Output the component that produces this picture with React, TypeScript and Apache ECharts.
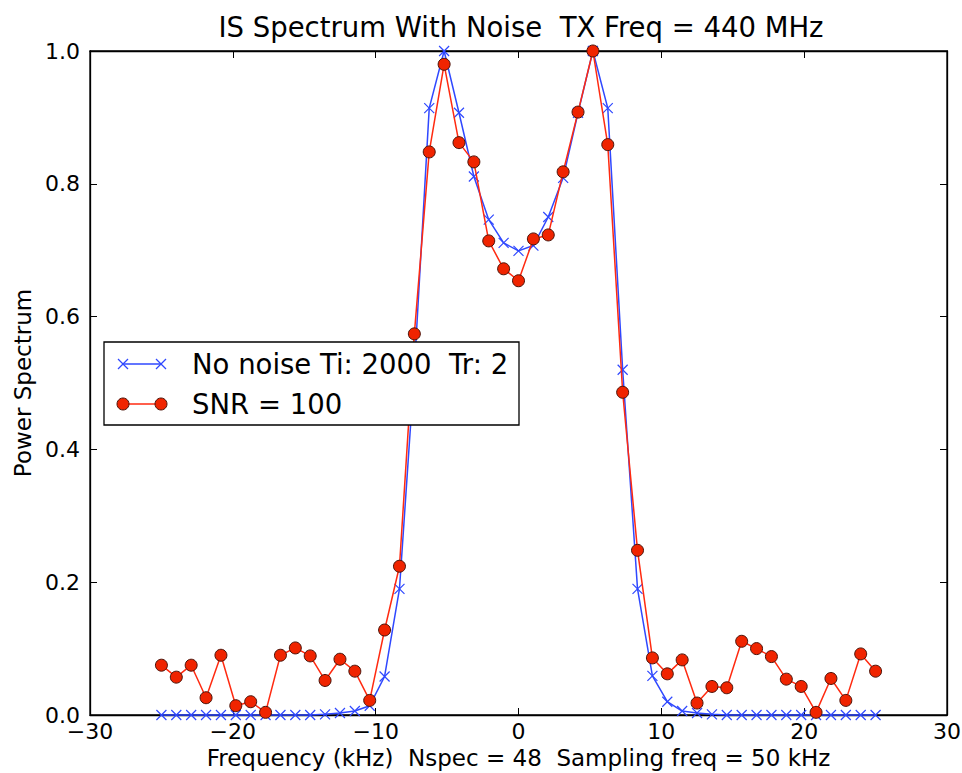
import React, { useEffect, useRef } from "react";
import * as echarts from "echarts";

const TITLE = "IS Spectrum With Noise  TX Freq = 440 MHz";
const X_LABEL = "Frequency (kHz)  Nspec = 48  Sampling freq = 50 kHz";
const Y_LABEL = "Power Spectrum";
const LEGEND_NAMES = ["No noise Ti: 2000  Tr: 2", "SNR = 100"];

const freqs = [
  -25, -23.958, -22.917, -21.875, -20.833, -19.792, -18.75, -17.708, -16.667, -15.625,
  -14.583, -13.542, -12.5, -11.458, -10.417, -9.375, -8.333, -7.292, -6.25, -5.208,
  -4.167, -3.125, -2.083, -1.042, 0, 1.042, 2.083, 3.125, 4.167, 5.208,
  6.25, 7.292, 8.333, 9.375, 10.417, 11.458, 12.5, 13.542, 14.583, 15.625,
  16.667, 17.708, 18.75, 19.792, 20.833, 21.875, 22.917, 23.958, 25,
];

const noNoise = [
  0, 0, 0, 0, 0, 0, 0, 0, 0, 0,
  0, 0.001, 0.003, 0.006, 0.014, 0.058, 0.19, 0.52, 0.914, 1.0,
  0.907, 0.811, 0.746, 0.711, 0.699, 0.707, 0.75, 0.809, 0.907, 1.0,
  0.914, 0.52, 0.19, 0.059, 0.02, 0.006, 0.003, 0.001, 0, 0,
  0, 0, 0, 0, 0, 0, 0, 0, 0,
];

const snr100 = [
  0.075, 0.057, 0.075, 0.026, 0.09, 0.014, 0.02, 0.004, 0.09, 0.101,
  0.089, 0.052, 0.084, 0.066, 0.022, 0.128, 0.224, 0.574, 0.848, 0.98,
  0.862, 0.833, 0.714, 0.672, 0.654, 0.717, 0.723, 0.818, 0.908, 1.0,
  0.859, 0.486, 0.248, 0.086, 0.062, 0.083, 0.018, 0.043, 0.041, 0.111,
  0.1, 0.088, 0.054, 0.043, 0.004, 0.055, 0.022, 0.092, 0.066,
];

const xTicks = { min: -30, max: 30, interval: 10 };
const yTicks = { min: 0, max: 1, interval: 0.2 };

const BLUE = "#2f48ff";
const RED = "#ff2a10";
const RED_FILL = "#f02400";
const RED_EDGE = "#4a1208";
const FONT = "DejaVu Sans";

const CROSS = "path://M0,0L10,10M10,0L0,10";

export default function App() {
  const ref = useRef<HTMLDivElement>(null);
  useEffect(() => {
    if (!ref.current) return;
    const chart = echarts.init(ref.current, undefined, { renderer: "svg" });
    const fmtX = (v: number) => String(v).replace("-", "\u2212");
    const axisCommon = {
      axisLine: { show: true, onZero: false, lineStyle: { color: "#000", width: 1.3 } },
      axisTick: { show: true, inside: true, length: 7, lineStyle: { color: "#000", width: 1 } },
      splitLine: { show: false },
    };
    const lx = 123, rx = 161, row1 = 364, row2 = 404;
    const Z = 100;
    const cross = (cx: number, cy: number) => [
      { type: "line", z: Z, shape: { x1: cx - 5, y1: cy - 5, x2: cx + 5, y2: cy + 5 }, style: { stroke: BLUE, lineWidth: 1.2 } },
      { type: "line", z: Z, shape: { x1: cx - 5, y1: cy + 5, x2: cx + 5, y2: cy - 5 }, style: { stroke: BLUE, lineWidth: 1.2 } },
    ];
    chart.setOption({
      animation: false,
      backgroundColor: "#fff",
      textStyle: { fontFamily: FONT },
      title: {
        text: TITLE,
        left: 516,
        top: 8,
        textAlign: "center",
        textStyle: { fontFamily: FONT, fontSize: 27.5, fontWeight: "normal", color: "#000" },
      },
      grid: {
        left: 90, right: 15, top: 51, bottom: 58,
        containLabel: false, outerBoundsMode: "none",
        show: true, borderColor: "#000", borderWidth: 1.3, backgroundColor: "transparent",
      },
      xAxis: [
        {
          type: "value", ...xTicks, position: "bottom", ...axisCommon,
          axisLabel: { color: "#000", fontSize: 22, lineHeight: 16, fontFamily: FONT, margin: 8, formatter: fmtX },
          name: X_LABEL, nameLocation: "middle", nameGap: 31,
          nameTextStyle: { color: "#000", fontSize: 23, fontFamily: FONT },
        },
        { type: "value", ...xTicks, position: "top", ...axisCommon, axisLabel: { show: false } },
      ],
      yAxis: [
        {
          type: "value", ...yTicks, position: "left", ...axisCommon,
          axisLabel: { color: "#000", fontSize: 22, lineHeight: 16, fontFamily: FONT, margin: 10, formatter: (v: number) => v.toFixed(1) },
          name: Y_LABEL, nameLocation: "middle", nameGap: 54, nameRotate: 90,
          nameTextStyle: { color: "#000", fontSize: 23, fontFamily: FONT },
        },
        { type: "value", ...yTicks, position: "right", ...axisCommon, axisLabel: { show: false } },
      ],
      series: [
        {
          name: LEGEND_NAMES[0], type: "line", clip: false,
          data: freqs.map((f, i) => [f, noNoise[i]]),
          symbol: CROSS, symbolSize: 10, showAllSymbol: true,
          lineStyle: { color: BLUE, width: 1.5 },
          itemStyle: { color: "transparent", borderColor: BLUE, borderWidth: 1.2 },
          z: 2,
        },
        {
          name: LEGEND_NAMES[1], type: "line", clip: false,
          data: freqs.map((f, i) => [f, snr100[i]]),
          symbol: "circle", symbolSize: 12, showAllSymbol: true,
          lineStyle: { color: RED, width: 1.5 },
          itemStyle: { color: RED_FILL, borderColor: RED_EDGE, borderWidth: 1 },
          z: 3,
        },
      ],
      graphic: [
        { type: "rect", z: Z, shape: { x: 104, y: 342, width: 415, height: 83 }, style: { fill: "#fff", stroke: "#000", lineWidth: 1.3 } },
        { type: "line", z: Z, shape: { x1: lx, y1: row1, x2: rx, y2: row1 }, style: { stroke: BLUE, lineWidth: 1.5 } },
        ...cross(lx, row1),
        ...cross(rx, row1),
        { type: "line", z: Z, shape: { x1: lx, y1: row2, x2: rx, y2: row2 }, style: { stroke: RED, lineWidth: 1.5 } },
        { type: "circle", z: Z, shape: { cx: lx, cy: row2, r: 6 }, style: { fill: RED_FILL, stroke: RED_EDGE, lineWidth: 1 } },
        { type: "circle", z: Z, shape: { cx: rx, cy: row2, r: 6 }, style: { fill: RED_FILL, stroke: RED_EDGE, lineWidth: 1 } },
        { type: "text", z: Z, x: 192, y: row1, style: { text: LEGEND_NAMES[0], fontFamily: FONT, fontSize: 27.5, fill: "#000", verticalAlign: "middle" } },
        { type: "text", z: Z, x: 192, y: row2, style: { text: LEGEND_NAMES[1], fontFamily: FONT, fontSize: 27.5, fill: "#000", verticalAlign: "middle" } },
      ],
    });
    return () => chart.dispose();
  }, []);
  return <div ref={ref} style={{ width: 962, height: 773, position: "absolute", left: 0, top: 0 }} />;
}
